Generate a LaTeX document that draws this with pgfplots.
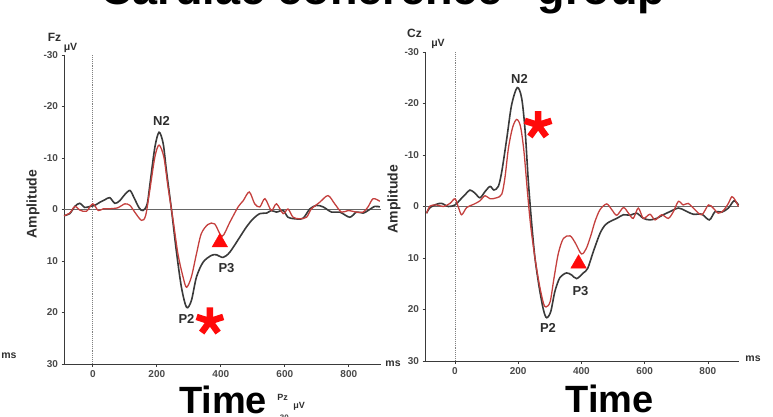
\documentclass[border=0pt]{standalone}
\usepackage{fontspec}
\setmainfont{Liberation Sans}
\usepackage{pgfplots}
\pgfplotsset{compat=1.18}

\definecolor{erpblack}{HTML}{3A3A3A}
\definecolor{erpred}{HTML}{C4403E}
\definecolor{sig}{HTML}{FF0A0A}
\definecolor{txt}{HTML}{2E2E2E}
\definecolor{ticktxt}{HTML}{4A4A4A}

% five armed bold asterisk
\pgfdeclareplotmark{ast5}{%
  \pgfsetbuttcap
  \foreach \a in {90,18,-54,-126,162}{%
    \pgfpathmoveto{\pgfpointorigin}%
    \pgfpathlineto{\pgfpointpolar{\a}{\pgfplotmarksize}}%
  }%
  \pgfusepathqstroke}

\pgfplotsset{
  erp/.style={
    scale only axis, height=309pt,
    xmax=900, ymin=-30, ymax=30,
    y dir=reverse,
    axis x line=bottom, axis y line=left,
    axis line style={-, erpblack, line width=0.9pt},
    xtick={0,200,400,600,800},
    ytick={-30,-20,-10,0,10,20,30},
    tick align=outside, major tick length=2.5pt,
    tick style={erpblack, line width=0.6pt},
    ticklabel style={font=\fontsize{10}{10}\selectfont\bfseries, text=ticktxt},
    /pgf/number format/assume math mode=true,
    clip=false,
  },
  black erp/.style={erpblack, line width=1.6pt, smooth, tension=0.5},
  red erp/.style={erpred, line width=1.3pt, smooth, tension=0.5},
}

\newcommand\peak{\fontsize{13}{13}\selectfont\bfseries\color{txt}}
\newcommand\smalllab{\fontsize{10.5}{10.5}\selectfont\bfseries\color{txt}}

\begin{document}
\begin{tikzpicture}[x=1pt,y=1pt]
\useasboundingbox (0,0) rectangle (773,416);
\clip (0,0) rectangle (773,416);

% cropped title
\node[anchor=base west, inner sep=0, font=\fontsize{45}{45}\selectfont\bfseries] at (100,411.5) {Cardiac coherence “group”};

% ---------- Fz ----------
\begin{axis}[erp, at={(64pt,52pt)}, anchor=south west, width=316.8pt, xmin=-90]
\addplot[gray!80!black, line width=0.8pt] coordinates {(-90,0) (900,0)};
\addplot[gray, densely dotted, line width=0.9pt] coordinates {(0,-30) (0,30)};
\addplot[black erp] coordinates {
 (-90,1.2) (-72,0.8) (-56,-0.6) (-41,-1.2) (-25,-0.4) (-9,-0.6) (6,-0.8) (22,-1.4)
 (38,-1.9) (53,-2.3) (69,-1.2) (84,-1.7) (100,-2.9) (116,-3.7) (128,-2.4) (145,-0.3)
 (157,0.2) (170,-1.1) (180,-5.6) (194,-12.1) (207,-15.0) (220,-12.8) (230,-7.6)
 (246,0.1) (261,8.0) (277,15.1) (293,19.0) (308,17.7) (324,13.1) (345,10.2) (371,8.9)
 (387,8.8) (407,9.3) (428,8.3) (459,5.4) (480,3.4) (501,1.8) (522,0.8) (543,0.7)
 (558,0.2) (574,0.5) (595,0.2) (610,1.5) (631,1.8) (657,1.7) (678,-0.1) (699,-0.8)
 (720,-0.5) (746,0.5) (772,0.5) (803,1.5) (824,0.5) (845,0.7) (860,0.2) (881,-0.6)
 (897,-0.5)
};
\addplot[red erp] coordinates {
 (-90,1.2) (-72,0.7) (-56,-0.6) (-41,0.1) (-20,0.35) (0,-1.1) (17,0.2) (33,-0.15)
 (53,-0.15) (79,-0.35) (100,-1.1) (116,-0.8) (131,0.5) (152,2.1) (165,1.2) (178,-3.7)
 (194,-10.2) (207,-12.5) (222,-10.2) (235,-4.4) (251,2.1) (266,8.6) (282,13.1)
 (293,15.1) (308,13.1) (324,8.6) (339,4.7) (360,2.9) (381,2.8) (404,5.2) (428,2.5)
 (454,-0.5) (470,-1.7) (489,-3.4) (506,-1.1) (522,-0.5) (538,-2.1) (558,0.2)
 (574,-1.1) (595,0.8) (610,-0.1) (626,1.5) (647,1.8) (668,1.5) (683,-0.1) (709,-1.4)
 (735,-2.7) (756,-1.1) (777,0.5) (798,0.2) (824,0.5) (845,0.5) (860,-0.5) (876,-2.1)
 (897,-1.6)
};
\addplot[only marks, mark=triangle*, mark size=9pt, color=sig] coordinates {(397,6.4)};
\addplot[only marks, mark=ast5, mark size=14pt, color=sig, mark options={line width=6.5pt}] coordinates {(366,21.7)};
\end{axis}

% ---------- Cz ----------
\begin{axis}[erp, at={(425pt,55pt)}, anchor=south west, width=314.4pt, xmin=-95]
\addplot[gray!80!black, line width=0.8pt] coordinates {(-95,0) (900,0)};
\addplot[gray, densely dotted, line width=0.9pt] coordinates {(0,-30) (0,30)};
\addplot[black erp] coordinates {
 (-90,1.3) (-79,0.2) (-58,-0.45) (-42,-0.6) (-21,0) (0,-0.3) (16,-1.3) (32,-2.3)
 (47,-3.2) (63,-2.6) (79,-1.7) (95,-2.9) (111,-3.9) (123,-3.2) (137,-3.9) (148,-6.8)
 (164,-13.3) (179,-19.7) (197,-23.1) (211,-21.0) (222,-14.6) (232,-4.9) (243,3.6)
 (253,10.0) (267,15.9) (280,20.1) (290,21.6) (303,20.4) (316,16.5) (332,13.8)
 (353,12.9) (369,13.3) (385,14.0) (406,12.9) (420,12.0) (438,8.7) (459,5.2) (475,3.6)
 (491,2.9) (512,2.3) (533,1.6) (554,1.7) (575,1.3) (596,2.3) (617,2.6) (638,2.3)
 (659,1.6) (680,1.0) (707,0.3) (728,0.8) (754,1.5) (781,1.5) (805,2.6) (823,1.0)
 (844,1.1) (865,0.3) (883,-1.1) (897,-0.3)
};
\addplot[red erp] coordinates {
 (-90,1.3) (-79,-0.1) (-58,-0.3) (-37,0) (-16,-0.6) (0,-1.5) (11,0.2) (21,1.6)
 (37,0.2) (58,-0.4) (79,-1.1) (95,-2.1) (111,-1.5) (132,-1.7) (148,-2.4) (158,-5.6)
 (169,-11.3) (182,-15.3) (195,-16.9) (207,-15.6) (218,-10.8) (229,-3.0) (239,3.5)
 (253,10.0) (267,15.2) (280,18.8) (288,19.5) (301,18.5) (313,14.0) (327,9.1)
 (343,6.2) (364,5.7) (380,7.0) (400,9.2) (415,8.2) (430,5.6) (443,2.9) (459,0.6)
 (480,-0.5) (496,0.6) (512,1.7) (533,0.2) (549,1.3) (564,2.3) (580,0.3) (596,2.3)
 (617,1.5) (633,2.6) (654,1.6) (675,2.3) (691,1.0) (707,-1.0) (722,-0.3) (738,-0.6)
 (759,0.6) (781,1.6) (802,-0.3) (817,0.3) (833,1.3) (849,0.8) (865,-0.6) (876,-1.9)
 (886,-1.3) (897,0)
};
\addplot[only marks, mark=triangle*, mark size=9pt, color=sig] coordinates {(391,11.1)};
\addplot[only marks, mark=ast5, mark size=14pt, color=sig, mark options={line width=6.5pt}] coordinates {(263,-15.8)};
\end{axis}

% peak labels
\node[font=\peak] at (161.5,295.5) {N2};
\node[font=\peak] at (186.5,97) {P2};
\node[font=\peak] at (226.5,147.5) {P3};
\node[font=\peak] at (519.5,337.5) {N2};
\node[font=\peak] at (548,88) {P2};
\node[font=\peak] at (580.5,125) {P3};

% electrode / unit labels
\node[font=\fontsize{12}{12}\selectfont\bfseries, text=txt] at (54.5,378.5) {Fz};
\node[font=\smalllab] at (70.5,368.5) {μV};
\node[font=\fontsize{12}{12}\selectfont\bfseries, text=txt] at (414.5,382.5) {Cz};
\node[font=\smalllab] at (438,372) {μV};
\node[font=\fontsize{14}{14}\selectfont\bfseries, text=txt, rotate=90] at (33,212) {Amplitude};
\node[font=\fontsize{14}{14}\selectfont\bfseries, text=txt, rotate=90] at (394,217) {Amplitude};
\node[font=\smalllab] at (393,52.5) {ms};
\node[font=\smalllab] at (753,57) {ms};
\node[font=\smalllab] at (9,60) {ms};

% axis titles
\node[anchor=base, inner sep=0, font=\fontsize{38}{38}\selectfont\bfseries] at (223,2.5) {Time};
\node[anchor=base, inner sep=0, font=\fontsize{38}{38}\selectfont\bfseries] at (609.5,3.5) {Time};

% fragment of the panel below
\node[font=\fontsize{9}{9}\selectfont\bfseries, text=txt] at (282.5,18.5) {Pz};
\node[font=\fontsize{9}{9}\selectfont\bfseries, text=txt] at (299,10) {μV};
\node[font=\fontsize{8}{8}\selectfont\bfseries, text=ticktxt] at (283,-2) {-30};
\end{tikzpicture}
\end{document}
